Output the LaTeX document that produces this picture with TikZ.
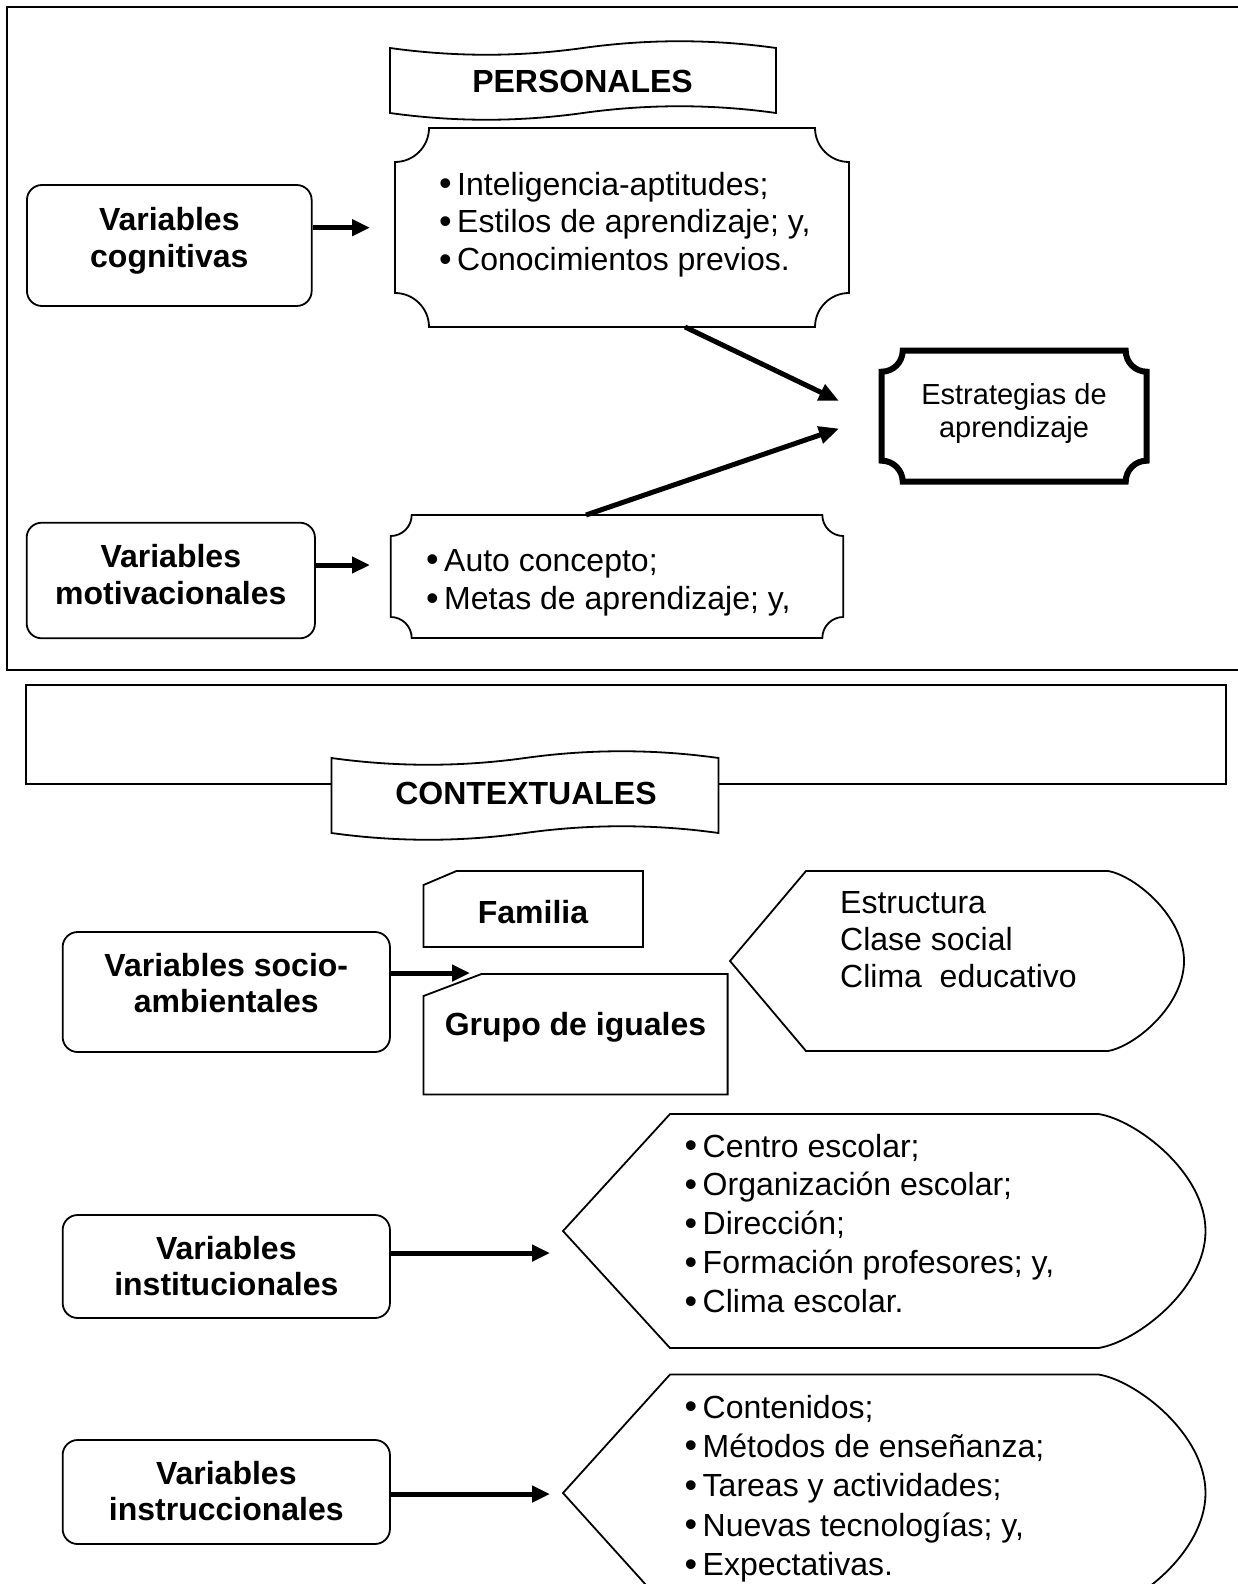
\documentclass[tikz,border=0pt]{standalone}
\usepackage{fontspec}
\setmainfont{Liberation Sans}
\usetikzlibrary{arrows.meta,calc}
\newcommand\bul{\makebox[18pt][l]{\raisebox{-0.5pt}{\scalebox{1.12}{•}}}}
\newcommand\tlines[1]{\begin{tabular}[t]{@{}l@{}}#1\end{tabular}}
\newcommand\clines[1]{\begin{tabular}[t]{@{}c@{}}#1\end{tabular}}
% plaque: opts, x0, y0, x1, y1, r, name
\newcommand\plaque[7]{%
 \draw[#1] (#2,#3+#6) .. controls (#2+0.55*#6,#3+#6) and (#2+#6,#3+0.55*#6) .. (#2+#6,#3)
  -- (#4-#6,#3) .. controls (#4-#6,#3+0.55*#6) and (#4-0.55*#6,#3+#6) .. (#4,#3+#6)
  -- (#4,#5-#6) .. controls (#4-0.55*#6,#5-#6) and (#4-#6,#5-0.55*#6) .. (#4-#6,#5)
  -- (#2+#6,#5) .. controls (#2+#6,#5-0.55*#6) and (#2+0.55*#6,#5-#6) .. (#2,#5-#6) -- cycle;
 \node[inner sep=0pt,outer sep=0pt,minimum width={#4-#2},minimum height={#5-#3}] (#7) at ({(#2+#4)/2},{(#3+#5)/2}) {};}
% wave banner: opts, x0, top y, x1, bottom y, name
\newcommand\wave[6]{%
 \draw[#1] (#2,#3) .. controls ({#2+(#4-#2)/6},#3+9) and ({#2+(#4-#2)/3},#3+9) .. ({(#2+#4)/2},#3)
  .. controls ({#2+2*(#4-#2)/3},#3-9) and ({#2+5*(#4-#2)/6},#3-9) .. (#4,#3) -- (#4,#5)
  .. controls ({#2+5*(#4-#2)/6},#5-9) and ({#2+2*(#4-#2)/3},#5-9) .. ({(#2+#4)/2},#5)
  .. controls ({#2+(#4-#2)/3},#5+9) and ({#2+(#4-#2)/6},#5+9) .. (#2,#5) -- cycle;
 \node[inner sep=0pt,outer sep=0pt,minimum width={#4-#2},minimum height={#5-#3}] (#6) at ({(#2+#4)/2},{(#3+#5)/2}) {};}
% display shape: opts, x left point, top y, bottom y, a (=w/6), x where right arc starts, name
\newcommand\dispshape[7]{%
 \draw[#1] (#2,{(#3+#4)/2}) -- (#2+#5,#3) -- (#6,#3)
  .. controls (#6+0.35*#5,{#3+0.05*(#4-#3)/2}) and (#6+#5,{(#3+#4)/2-0.5*(#4-#3)/2}) .. (#6+#5,{(#3+#4)/2})
  .. controls (#6+#5,{(#3+#4)/2+0.5*(#4-#3)/2}) and (#6+0.35*#5,{#4-0.05*(#4-#3)/2}) .. (#6,#4)
  -- (#2+#5,#4) -- cycle;
 \node[inner sep=0pt,outer sep=0pt,minimum width={#6+#5-#2},minimum height={#4-#3}] (#7) at ({(#2+#6+#5)/2},{(#3+#4)/2}) {};}
\begin{document}
\begin{tikzpicture}[x=1pt,y=-1pt,
  fline/.style={line width=1.6pt},
  shp/.style={line width=1.8pt,fill=white},
  vbox/.style={draw,line width=1.8pt,rounded corners=15pt,inner sep=0pt},
  lbl/.style={font=\bfseries\fontsize{32}{36.5}\selectfont,anchor=base,inner sep=0pt},
  txt/.style={anchor=base west,inner sep=0pt},
  harr/.style={line width=5pt,-{Triangle[length=18pt,width=16pt]}},
  darr/.style={line width=5pt,-{Triangle[length=20pt,width=17pt]}}]
\fill[white] (0,0) rectangle (1238,1584);
\useasboundingbox (0,0) rectangle (1238,1584);

% ---------- top frame ----------
\draw[fline] (1238,7) -- (7,7) -- (7,670) -- (1238,670);

\wave{shp}{390}{48}{776}{113}{pers}
\node[lbl] (perst) at (582.5,93) {PERSONALES};

\node[vbox,minimum width=284.7pt,minimum height=121pt] (cog) at (169.3,245.5) {};
\node[lbl] (cogt) at (169.3,230.5) {\clines{Variables\\cognitivas}};

\plaque{shp}{395}{128}{849}{327}{34}{intel}
\node[txt,font=\fontsize{32}{37.8}\selectfont] (intelt) at (439,195)
  {\tlines{\bul Inteligencia-aptitudes;\\\bul Estilos de aprendizaje; y,\\\bul Conocimientos previos.}};

\plaque{line width=6pt,fill=white}{881.7}{350.7}{1146.7}{481.7}{21}{estr}
\node[anchor=base,inner sep=0pt,font=\fontsize{29}{33.5}\selectfont] (estrt) at (1014,404)
  {\clines{Estrategias de\\aprendizaje}};

\node[vbox,minimum width=288.3pt,minimum height=115.6pt] (mot) at (170.8,580.5) {};
\node[lbl] (mott) at (170.8,567.5) {\clines{Variables\\motivacionales}};

\plaque{shp}{390.7}{515}{843.3}{638}{21}{auto}
\node[txt,font=\fontsize{32}{38.5}\selectfont] (autot) at (426,571)
  {\tlines{\bul Auto concepto;\\\bul Metas de aprendizaje; y,}};

\coordinate (cogtip) at (370,227.7);
\coordinate (mottip) at (370,565);
\coordinate (d1e) at (839,401);
\coordinate (d2e) at (839,428.5);
\draw[harr] (cog.east |- cogtip) -- (cogtip);
\draw[harr] (mot.east |- mottip) -- (mottip);
\draw[darr] ($(intel.south west)!0.6388!(intel.south east)$) -- (d1e);
\draw[darr] ($(auto.north west)!0.4315!(auto.north east)$) -- (d2e);

% ---------- bottom part ----------
\draw[fline] (26,685) rectangle (1226,784);
\wave{shp}{331.5}{758}{718.5}{833}{cont}
\node[lbl] (contt) at (526,804.5) {CONTEXTUALES};

\node[vbox,minimum width=327.3pt,minimum height=120pt] (soc) at (226.3,992) {};
\node[lbl] (soct) at (226.3,976) {\clines{Variables socio-\\ambientales}};

\draw[shp] (423.5,885) -- (456.5,871) -- (643,871) -- (643,947) -- (423.5,947) -- cycle;
\node[inner sep=0pt,minimum width=219.5pt,minimum height=76pt] (fam) at (533.2,909) {};
\node[lbl] (famt) at (533,923) {Familia};

\draw[shp] (423.5,996) -- (481.5,974) -- (727.6,974) -- (727.6,1094.5) -- (423.5,1094.5) -- cycle;
\node[inner sep=0pt,minimum width=304.1pt,minimum height=120.5pt] (gru) at (575.5,1034.2) {};
\node[lbl] (grut) at (575.5,1035.5) {Grupo de iguales};

\dispshape{shp}{730}{871}{1051}{76}{1108}{estru}
\node[txt,font=\fontsize{32}{37.4}\selectfont] (estrut) at (840,913)
  {\tlines{Estructura\\Clase social\\Clima\ \ educativo}};

\coordinate (soctip) at (470,973);
\draw[harr] (soc.east |- soctip) -- (soctip);

\node[vbox,minimum width=327.3pt,minimum height=103pt] (ins) at (226.3,1266.5) {};
\node[lbl] (inst) at (226.3,1259) {\clines{Variables\\institucionales}};

\dispshape{shp}{563}{1114}{1348}{107}{1098.5}{cen}
\node[txt,font=\fontsize{32}{38.9}\selectfont] (cent) at (684.5,1157)
  {\tlines{\bul Centro escolar;\\\bul Organización escolar;\\\bul Dirección;\\\bul Formación profesores; y,\\\bul Clima escolar.}};

\coordinate (instip) at (550,1253);
\draw[harr] (ins.east |- instip) -- (instip);

\node[vbox,minimum width=327.3pt,minimum height=104pt] (insc) at (226.3,1492) {};
\node[lbl] (insct) at (226.3,1484) {\clines{Variables\\instruccionales}};

\begin{scope}
\clip (0,0) rectangle (1238,1584);
\dispshape{shp}{563}{1374.5}{1611.5}{107}{1098.5}{con}
\end{scope}
\node[txt,font=\fontsize{32}{39.4}\selectfont] (cont2) at (684.5,1418)
  {\tlines{\bul Contenidos;\\\bul Métodos de enseñanza;\\\bul Tareas y actividades;\\\bul Nuevas tecnologías; y,\\\bul Expectativas.}};

\coordinate (insctip) at (550,1494);
\draw[harr] (insc.east |- insctip) -- (insctip);
\end{tikzpicture}
\end{document}
